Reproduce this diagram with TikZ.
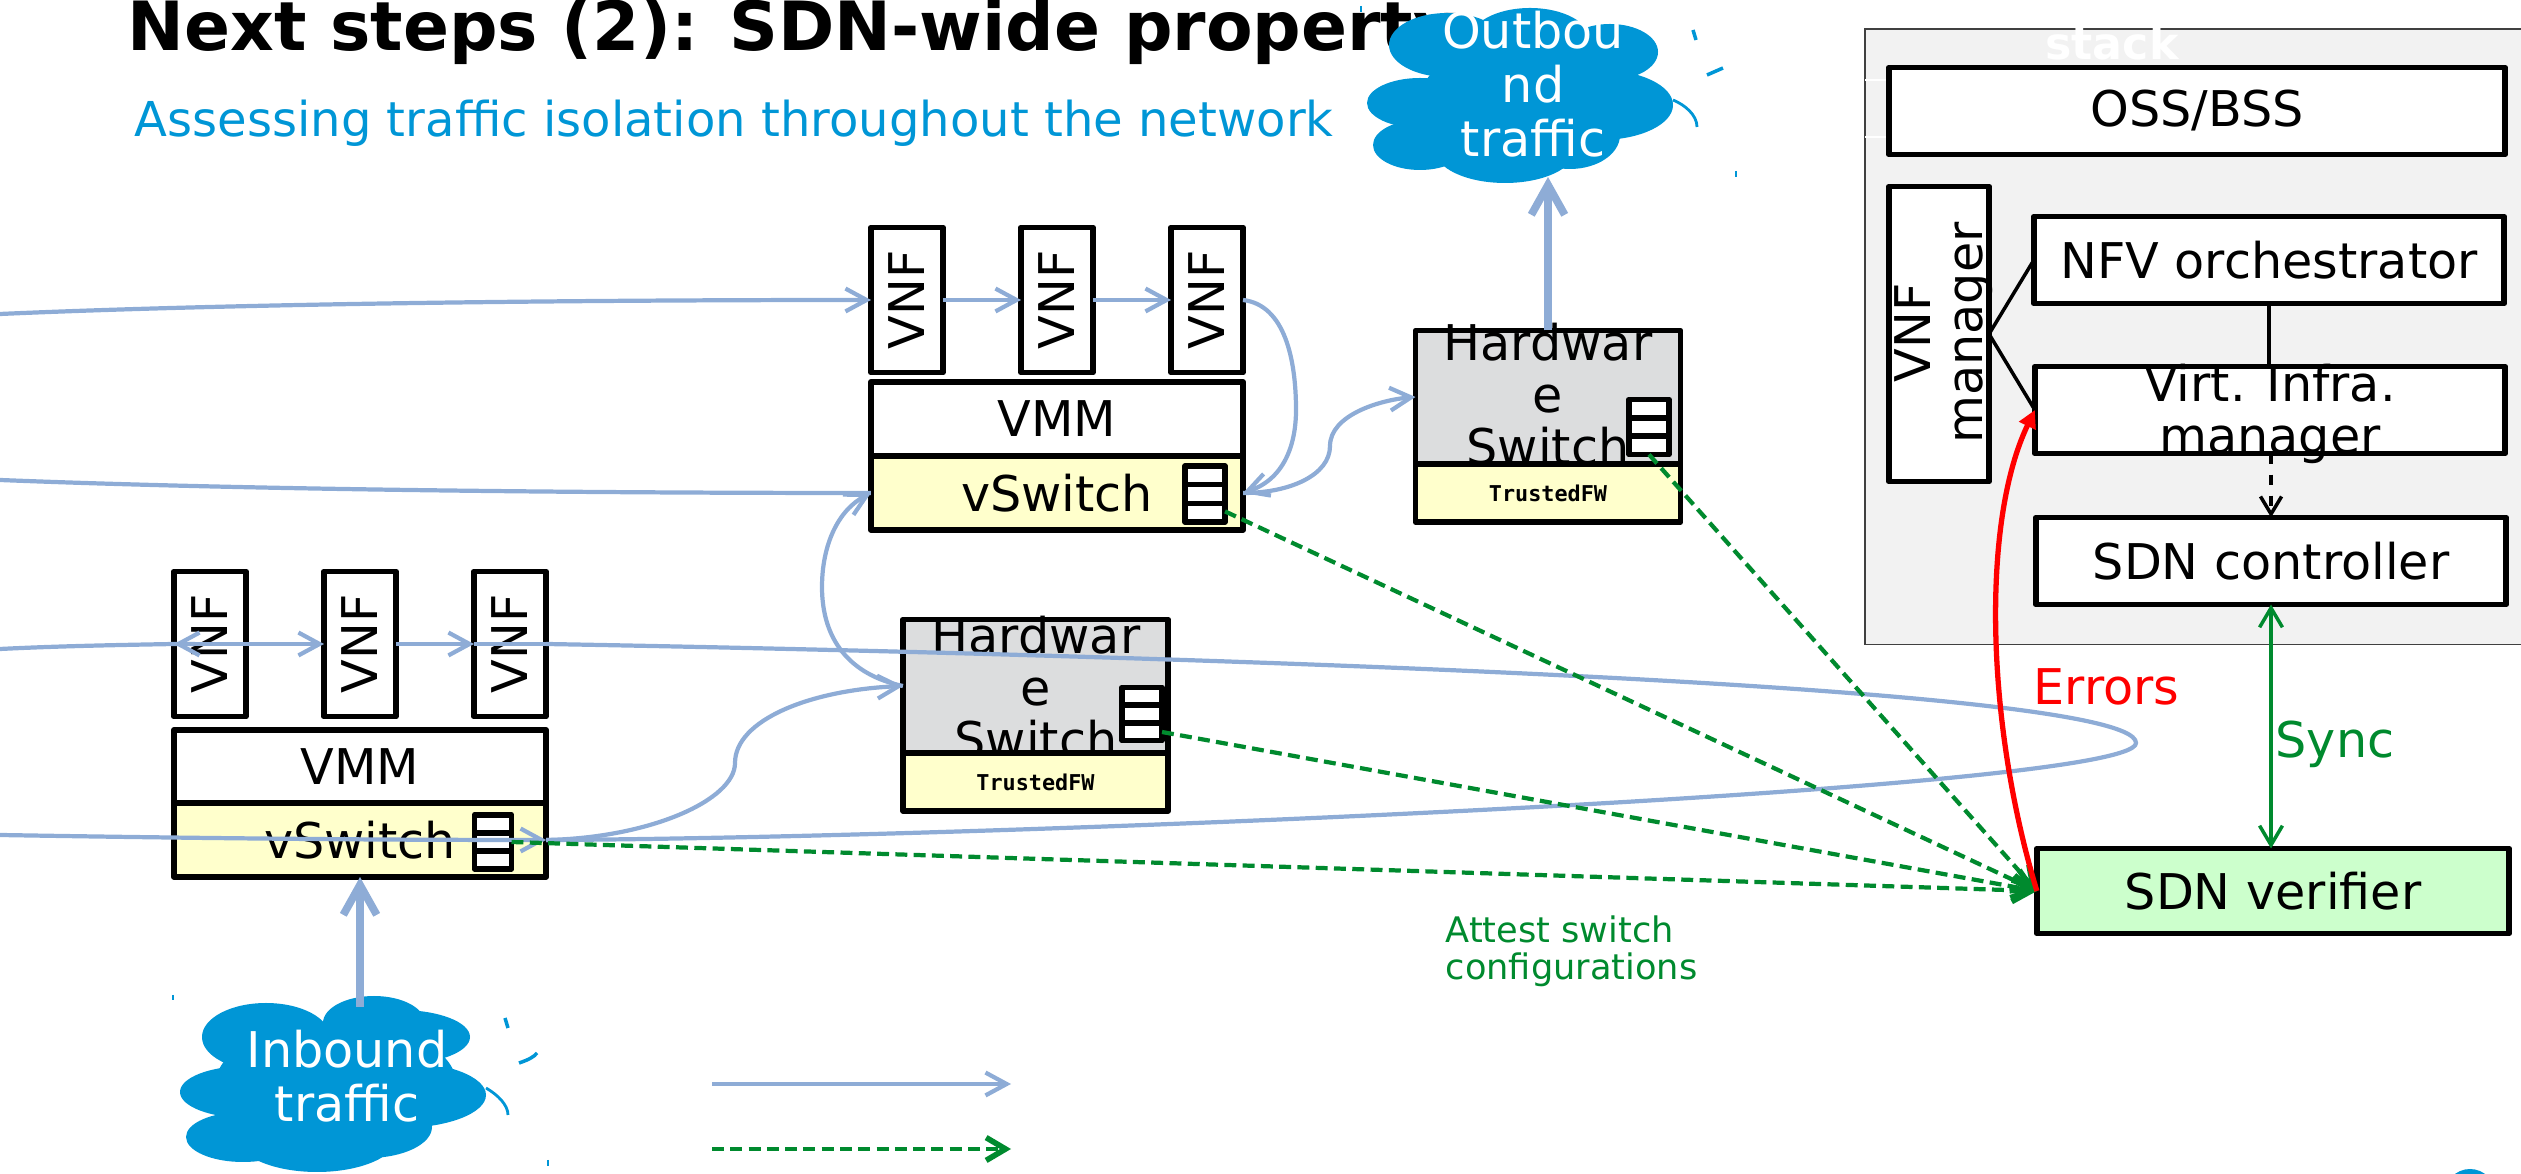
\documentclass[tikz,border=0pt]{standalone}
\usepackage{fontspec}
\setmainfont{DejaVu Sans}
\setmonofont{DejaVu Sans Mono}
\usetikzlibrary{calc,arrows.meta}
\definecolor{cloudblue}{RGB}{0,150,214}
\definecolor{flowblue}{RGB}{142,172,214}
\definecolor{attestgreen}{RGB}{0,138,46}
\definecolor{switchyellow}{RGB}{255,255,204}
\definecolor{hwgray}{RGB}{220,221,222}
\definecolor{panelgray}{RGB}{242,242,242}
\definecolor{verifiergreen}{RGB}{204,255,204}
\def\outlobes{
  1447/45/58/32,
  1530/40/60/32,
  1610/52/48/28,
  1600/105/73/35,
  1420/103/53/25,
  1420/145/47/25,
  1505/150/70/33,
  1570/135/50/34,
  1530/100/110/60
}
\def\inlobes{
  266/1037/64/34,
  374/1023/51/27,
  400/1037/70/27,
  400/1095/86/33,
  247/1092/67/26,
  243/1137/57/25,
  317/1137/80/35,
  368/1127/64/31,
  336/1083/120/60
}
\tikzset{
  flowtip/.tip   = {_[sep=5.5pt]Straight Barb[length=6pt,width=6.5pt]},
  bigtip/.tip    = {_[sep=8pt]Straight Barb[length=8.5pt,width=9.5pt]},
  syncbox/.style = {draw=black, line width=1.6pt, line join=round, outer sep=0pt, inner sep=0pt,
                    font=\fontsize{14}{14.8}\selectfont},
  vnfbox/.style  = {syncbox, fill=white, minimum width=0.72cm, minimum height=1.45cm},
  hostbox/.style = {syncbox, minimum width=3.72cm, minimum height=0.74cm},
  hwbox/.style   = {syncbox, fill=hwgray, minimum width=2.65cm, minimum height=1.33cm},
  fwbox/.style   = {syncbox, fill=switchyellow, minimum width=2.65cm, minimum height=0.58cm,
                    font=\fontsize{6.2}{7}\ttfamily\bfseries},
  rowsbox/.style = {syncbox, fill=white, minimum width=0.40cm, minimum height=0.55cm},
  stackbox/.style= {syncbox, fill=white, minimum width=4.70cm, minimum height=0.87cm},
  boxtext/.style = {font=\fontsize{14}{14.8}\selectfont, align=center, inner sep=0pt},
  cloudfill/.style = {fill=cloudblue},
  cloudtext/.style = {font=\fontsize{14}{15.4}\selectfont, align=center, inner sep=0pt, text=white},
  cloudbit/.style  = {draw=cloudblue, line width=0.6pt},
  flow/.style    = {draw=flowblue, line width=1.2pt, -flowtip},
  flowplain/.style = {draw=flowblue, line width=1.2pt},
  bigflow/.style = {draw=flowblue, line width=2.2pt, -bigtip},
  attest/.style  = {draw=attestgreen, line width=1.2pt, dash pattern=on 3.4pt off 1.8pt,
                    -{_[sep=5pt]Straight Barb[length=5.5pt,width=6.5pt,line width=1.6pt]}},
  link/.style    = {draw=black, line width=1pt},
  dashlink/.style= {link, dash pattern=on 3pt off 3pt, -{_[sep=4pt]Straight Barb[length=5pt,width=6pt]}},
  synclink/.style= {draw=attestgreen, line width=1pt,
                    {Straight Barb[length=5.5pt,width=6.5pt]_[sep=5pt]}-{_[sep=5pt]Straight Barb[length=5.5pt,width=6.5pt]}},
  errlink/.style = {draw=red, line width=1.5pt, -{Triangle[length=5pt,width=5pt]}}
}
\newcommand{\rowstable}[5]{
  \node[rowsbox, minimum width=#4cm, minimum height=#5cm] (#1) at (#2,#3) {};
  \draw[link, line width=1.6pt] ($(#1.north west)!1/3!(#1.south west)$) -- ($(#1.north east)!1/3!(#1.south east)$);
  \draw[link, line width=1.6pt] ($(#1.north west)!2/3!(#1.south west)$) -- ($(#1.north east)!2/3!(#1.south east)$);
}
\begin{document}
\begin{tikzpicture}[x=0.01cm,y=-0.01cm]
  \useasboundingbox (0,0) rectangle (2521,1174);
  % Slide heading
  \node[anchor=base west, inner sep=0pt, font=\fontsize{19.3}{20}\bfseries] (heading) at (127,51) {Next steps (2): SDN-wide property};
  \node[anchor=base west, inner sep=0pt, text=cloudblue, font=\fontsize{13.67}{15}\selectfont] (subheading) at (134,137) {Assessing traffic isolation throughout the network};

  % Clouds, each a pile of lobes
  \foreach \x/\y/\rx/\ry in \outlobes {
    \fill[cloudfill] (\x,\y) ellipse [x radius=\rx, y radius=\ry];
  }
  \foreach \x/\y/\rx/\ry in \inlobes {
    \fill[cloudfill] (\x,\y) ellipse [x radius=\rx, y radius=\ry];
  }
  \fill[cloudfill] (2470,1196) ellipse [x radius=26, y radius=27];
  % Loose bits of cloud outline
  \draw[cloudbit, line width=0.8pt] (1673,100) .. controls (1685,105) and (1697,115) .. (1697,127);
  \draw[cloudbit, line width=1pt] (1693,30) -- (1696,40);
  \draw[cloudbit, line width=1pt] (1707,75) -- (1723,68);
  \draw[cloudbit] (1736,171) -- (1736,177);
  \draw[cloudbit] (1361,6) -- (1361,12);
  \draw[cloudbit, line width=0.8pt] (486,1088) .. controls (498,1095) and (508,1105) .. (508,1115);
  \draw[cloudbit, line width=1pt] (505,1018) -- (508,1028);
  \draw[cloudbit, line width=1pt] (519,1063) .. controls (528,1060) and (534,1057) .. (537,1053);
  \draw[cloudbit] (173,995) -- (173,1000);
  \draw[cloudbit] (548,1160) -- (548,1166);
  \node[cloudtext] (outbound) at (1533,84) {Outbou\\nd\\traffic};
  \node[cloudtext] (inbound) at (347,1076) {Inbound\\traffic};

  % Software stack panel
  \node[draw=black!75, fill=panelgray, line width=0.4pt, outer sep=0pt, anchor=north west, minimum width=7cm, minimum height=6.15cm] (panel) at (1865,29) {};
  \node[inner sep=0pt, anchor=base, text=white, font=\fontsize{12.6}{14}\bfseries] (stack) at (2112,60) {stack};
  \draw[white, line width=0.3pt] (1865,80) -- (1887,80);
  \draw[white, line width=0.3pt] (1865,137) -- (1887,137);
  \node[stackbox, minimum width=6.16cm] (oss) at (2197,111) {OSS/BSS};
  \node[syncbox, fill=white, minimum width=1cm, minimum height=2.95cm] (vnfm) at (1939,334) {};
  \node[boxtext, rotate=90, text depth=0pt] (vnfmtext) at (1939,333) {VNF\\manager};
  \node[stackbox] (nfvo) at (2269,260) {NFV orchestrator};
  \node[stackbox] (vim) at (2270,410) {};
  \node[boxtext] (vimtext) at (2270,414) {Virt. Infra.\\manager};
  \node[stackbox] (sdnc) at (2271,561) {SDN controller};
  \node[stackbox, fill=verifiergreen, minimum width=4.72cm, minimum height=0.85cm] (verifier) at (2273,891) {SDN verifier};
  \draw[link] (vnfm.east) -- (nfvo.west);
  \draw[link] (vnfm.east) -- (vim.west);
  \draw[link] (nfvo.south) -- (nfvo.south |- vim.north);
  \draw[dashlink] (vim.south -| sdnc.north) -- (sdnc.north);

  % Lower host
  \foreach \name/\x in {vnfAa/210, vnfAb/360, vnfAc/510} {
    \node[vnfbox] (\name) at (\x,644) {\rotatebox{90}{VNF}};
  }
  \node[hostbox, fill=white] (vmmA) at (360,767) {VMM};
  \node[hostbox, fill=switchyellow] (vswA) at (360,840) {vSwitch};
  \rowstable{rowsA}{493}{842}{0.37}{0.54}

  % Upper host
  \foreach \name/\x in {vnfBa/907, vnfBb/1057, vnfBc/1207} {
    \node[vnfbox] (\name) at (\x,300) {\rotatebox{90}{VNF}};
  }
  \node[hostbox, fill=white] (vmmB) at (1057,419) {VMM};
  \node[hostbox, fill=switchyellow] (vswB) at (1057,493) {vSwitch};
  \rowstable{rowsB}{1205}{494}{0.40}{0.56}

  % Hardware switches
  \node[hwbox] (hwA) at (1035.5,686) {};
  \node[boxtext] (hwAtext) at (1036,687) {Hardwar\\e\\Switch};
  \node[fwbox] (fwA) at (1035.5,782) {TrustedFW};
  \rowstable{rowsC}{1142}{714}{0.40}{0.53}
  \node[hwbox] (hwB) at (1548,397) {};
  \node[boxtext] (hwBtext) at (1548,394) {Hardwar\\e\\Switch};
  \node[fwbox] (fwB) at (1548,493) {TrustedFW};
  \rowstable{rowsD}{1649}{427}{0.40}{0.55}

  % Traffic
  \coordinate (edgeA) at (0,649);
  \coordinate (edgeB) at (0,835);
  \coordinate (edgeC) at (0,314);
  \coordinate (edgeD) at (0,480);
  \coordinate (inTop) at (360,1007);
  \coordinate (outBottom) at (1548,177);
  \coordinate (insideA) at (195,644);
  \coordinate (insideB) at (230,644);
  \draw[flowplain] (edgeA) .. controls (60,646) and (120,645) .. (vnfAa.west) -- (insideA);
  \draw[flow] (insideB) -- (vnfAa.west);
  \draw[flow] (insideA) -- (vnfAb.west);
  \draw[flow] (vnfAb.east) -- (vnfAc.west);
  \draw[flowplain] (vnfAc.west) -- (vnfAc.east);
  \draw[flow] (edgeB) .. controls (180,838) and (360,840) .. (vswA.east);
  \draw[flowplain] (vnfAc.east) .. controls (1000,652) and (2136,680) .. (2136,743) .. controls (2136,790) and (1000,838) .. (vswA.east);
  \draw[flow] (vswA.east) .. controls (650,838) and (735,800) .. (735,763) .. controls (735,720) and (810,690) .. (hwA.west);
  \draw[flow] (hwA.west) .. controls (850,675) and (822,640) .. (822,587) .. controls (822,545) and (838,510) .. (vswB.west);
  \draw[flow] (edgeC) .. controls (250,303) and (600,300) .. (vnfBa.west);
  \draw[flow] (vnfBa.east) -- (vnfBb.west);
  \draw[flow] (vnfBb.east) -- (vnfBc.west);
  \draw[flowplain] (edgeD) .. controls (250,490) and (600,493) .. (vswB.west);
  \draw[flow] (vnfBc.east) .. controls (1285,305) and (1296,360) .. (1296,410) .. controls (1296,440) and (1287,478) .. (vswB.east);
  \draw[flowplain] (vswB.east) .. controls (1290,493) and (1330,475) .. (1330,446);
  \draw[flow] (1330,446) .. controls (1330,415) and (1380,400) .. (hwB.west);
  \draw[bigflow] (inTop) -- (vswA.south);
  \draw[bigflow] (hwB.north) -- (outBottom);

  % Attestation, sync and errors
  \draw[attest] (rowsA.east) -- (verifier.west);
  \draw[attest] (rowsC.-42) -- (verifier.west);
  \draw[attest] (rowsB.-41) -- (verifier.west);
  \draw[attest] (rowsD.south) -- (verifier.west);
  \draw[errlink] (verifier.west) .. controls (1985,720) and (1982,520) .. (vim.west);
  \draw[synclink] (sdnc.south) -- (sdnc.south |- verifier.north);
  \node[anchor=base west, inner sep=0pt, text=red, font=\fontsize{14}{15}\selectfont] (errors) at (2033,705) {Errors};
  \node[anchor=base west, inner sep=0pt, text=attestgreen, font=\fontsize{14}{15}\selectfont] (sync) at (2275,758) {Sync};
  \node[anchor=north west, inner sep=0pt, align=left, text=attestgreen, font=\fontsize{10}{10.5}\selectfont] (attesttext) at (1445,915) {Attest switch\\configurations};

  % Legend
  \coordinate (legAa) at (712,1084);
  \coordinate (legAb) at (1011,1084);
  \coordinate (legBa) at (712,1149);
  \coordinate (legBb) at (1011,1149);
  \draw[flow] (legAa) -- (legAb);
  \draw[attest] (legBa) -- (legBb);
\end{tikzpicture}
\end{document}
